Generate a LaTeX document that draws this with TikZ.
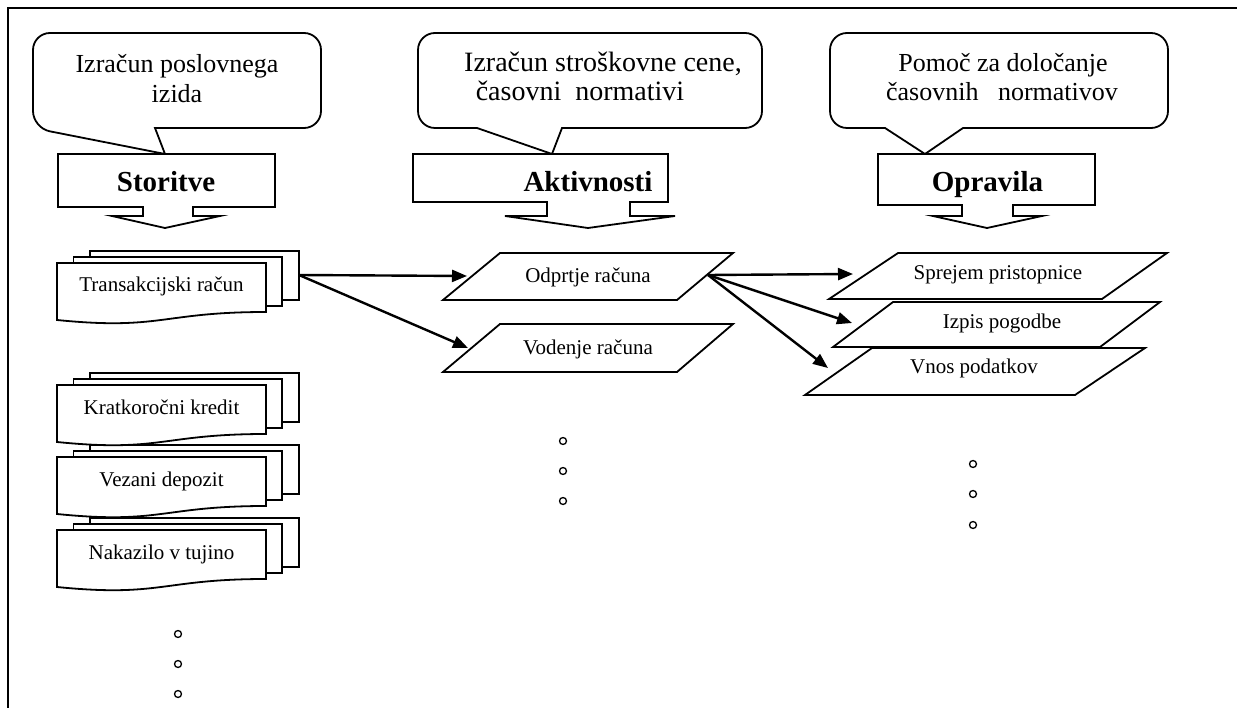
\documentclass[tikz,border=0pt]{standalone}
\usepackage{fontspec}
\setmainfont{Liberation Serif}
\usetikzlibrary{arrows.meta}

% stacked documents: name, left x of front sheet, top y of front sheet, label
\newcommand\mdocstack[4]{%
  \draw[outline] (#2+33,#3-12) rectangle (#2+242,#3+37);
  \draw[outline] (#2+16.5,#3-6) rectangle (#2+225,#3+43);
  \draw[outline] (#2,#3) -- (#2+209,#3) -- (#2+209,#3+49)
     .. controls (#2+104.5,#3+49) and (#2+104.5,#3+67.5) .. (#2,#3+57) -- cycle;
  \node[itemtext] (#1) at (#2+104.5,#3+29) {#4};
}

\begin{document}
\begin{tikzpicture}[x=1pt,y=-1pt,
  outline/.style={draw=black, line width=1.8pt, fill=white, line join=miter},
  frameline/.style={draw=black, line width=2.6pt},
  calltext/.style={font=\fontsize{26}{30}\selectfont, anchor=base, inner sep=0pt},
  headtext/.style={font=\bfseries\fontsize{29}{34}\selectfont, anchor=base, inner sep=0pt},
  itemtext/.style={font=\fontsize{21}{25}\selectfont, anchor=base, inner sep=0pt},
  conn/.style={draw=black, line width=2.4pt, -{Triangle[length=15pt,width=12pt]}},
  ellipsisdot/.style={draw=black, line width=1.3pt, circle, inner sep=0pt, minimum size=7pt}
]
\useasboundingbox (0,0) rectangle (1237,708);

% frame
\draw[frameline] (8,708) -- (8,8) -- (1237,8);

% ---- speech-bubble callouts ----
\draw[outline] (155,128) [rounded corners=17] -- (321,128) -- (321,33) -- (33,33) -- (33,128) [sharp corners] -- (165,154) -- cycle;
\node[calltext] (c1a) at (177,73) {Izračun poslovnega};
\node[calltext] (c1b) at (177,103) {izida};

\draw[outline] (562,128) [rounded corners=17] -- (762,128) -- (762,33) -- (418,33) -- (418,128) [sharp corners] -- (477,128) -- (552,154) -- cycle;
\node[calltext, font=\fontsize{28}{32}\selectfont] (c2a) at (603,72) {Izračun stroškovne cene,};
\node[calltext, font=\fontsize{28}{32}\selectfont] (c2b) at (580,101) {časovni\ \ normativi};

\draw[outline] (963,128) [rounded corners=17] -- (1168,128) -- (1168,33) -- (830,33) -- (830,128) [sharp corners] -- (885,128) -- (925,154) -- cycle;
\node[calltext] (c3a) at (1003,72) {Pomoč za določanje};
\node[calltext] (c3b) at (1002,101) {časovnih\ \ \ normativov};

% ---- down-arrow callouts ----
\draw[outline] (58,154) -- (275,154) -- (275,207) -- (193,207) -- (193,216) -- (220,216)
   -- (165,228) -- (112,216) -- (143,216) -- (143,207) -- (58,207) -- cycle;
\node[headtext] (storitve) at (166,192) {Storitve};

\draw[outline] (413,154) -- (668,154) -- (668,202) -- (630,202) -- (630,216) -- (675,216)
   -- (588,228) -- (505,216) -- (547,216) -- (547,202) -- (413,202) -- cycle;
\node[headtext] (aktivnosti) at (588,192) {Aktivnosti};

\draw[outline] (878,154) -- (1095,154) -- (1095,205) -- (1013,205) -- (1013,216) -- (1042,216)
   -- (987,228) -- (933,216) -- (962,216) -- (962,205) -- (878,205) -- cycle;
\node[headtext] (opravila) at (987.5,192) {Opravila};

% ---- services (stacked documents) ----
\mdocstack{nakazilo}{57}{530}{Nakazilo v tujino}
\mdocstack{vezani}{57}{457}{Vezani depozit}
\mdocstack{kratko}{57}{385}{Kratkoročni kredit}
\mdocstack{trans}{57}{263}{Transakcijski račun}

% ---- activities ----
\draw[outline] (500,253) -- (733,253) -- (677,300) -- (443,300) -- cycle;
\node[itemtext] (odprtje) at (588,283) {Odprtje računa};
\draw[outline] (500,324) -- (733,324) -- (677,372) -- (443,372) -- cycle;
\node[itemtext] (vodenje) at (588,355) {Vodenje računa};

% ---- tasks ----
\draw[outline] (898,253) -- (1167,253) -- (1102,299) -- (829,299) -- cycle;
\node[itemtext] (sprejem) at (998,280) {Sprejem pristopnice};
\draw[outline] (893,302) -- (1160,302) -- (1100,347) -- (833,347) -- cycle;
\node[itemtext] (izpis) at (1002,329) {Izpis pogodbe};
\draw[outline] (872,348) -- (1145,348) -- (1075,395) -- (805,395) -- cycle;
\node[itemtext] (vnos) at (974,374) {Vnos podatkov};

% ---- connection points ----
\coordinate (trans-out) at (299,275);
\coordinate (odprtje-in) at (467,276);
\coordinate (vodenje-in) at (468,348);
\coordinate (odprtje-out) at (708,275);
\coordinate (sprejem-in) at (853,274);
\coordinate (izpis-in) at (852,323);
\coordinate (vnos-in) at (828,368);

\draw[conn] (trans-out) -- (odprtje-in);
\draw[conn] (trans-out) -- (vodenje-in);
\draw[conn] (odprtje-out) -- (sprejem-in);
\draw[conn] (odprtje-out) -- (izpis-in);
\draw[conn] (odprtje-out) -- (vnos-in);

% ---- continuation marks ----
\node[ellipsisdot] (s-dot1) at (178,634) {};
\node[ellipsisdot] (s-dot2) at (178,664) {};
\node[ellipsisdot] (s-dot3) at (178,694) {};
\node[ellipsisdot] (a-dot1) at (563,441) {};
\node[ellipsisdot] (a-dot2) at (563,471) {};
\node[ellipsisdot] (a-dot3) at (563,501) {};
\node[ellipsisdot] (o-dot1) at (973,464) {};
\node[ellipsisdot] (o-dot2) at (973,494) {};
\node[ellipsisdot] (o-dot3) at (973,525) {};
\end{tikzpicture}
\end{document}
